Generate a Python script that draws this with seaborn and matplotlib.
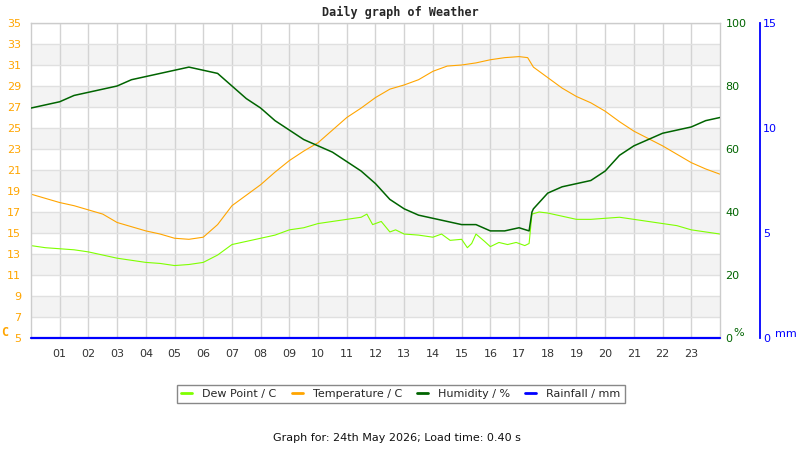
import matplotlib
matplotlib.use('Agg')
import matplotlib.pyplot as plt
from matplotlib.lines import Line2D
import seaborn as sns

# readings for the day (hours since midnight)
temp_hours = [0, 0.5, 1, 1.5, 2, 2.5, 3, 3.5, 4, 4.5, 5, 5.5, 6, 6.5, 7, 7.5, 8, 8.5,
              9, 9.5, 10, 10.5, 11, 11.5, 12, 12.5, 13, 13.5, 14, 14.5, 15, 15.5, 16,
              16.5, 17, 17.3, 17.5, 18, 18.5, 19, 19.5, 20, 20.5, 21, 21.5, 22, 22.5,
              23, 23.5, 24]
temperature = [18.7, 18.3, 17.9, 17.6, 17.2, 16.8, 16.0, 15.6, 15.2, 14.9, 14.5, 14.4,
               14.6, 15.8, 17.6, 18.6, 19.6, 20.8, 21.9, 22.8, 23.6, 24.8, 26.0, 26.9,
               27.9, 28.7, 29.1, 29.6, 30.4, 30.9, 31.0, 31.2, 31.5, 31.7, 31.8, 31.7,
               30.8, 29.8, 28.8, 28.0, 27.4, 26.6, 25.6, 24.7, 24.0, 23.3, 22.5, 21.7,
               21.1, 20.6]

dew_hours = [0, 0.5, 1, 1.5, 2, 2.5, 3, 3.5, 4, 4.5, 5, 5.5, 6, 6.5, 7, 7.5, 8, 8.5,
             9, 9.5, 10, 10.5, 11, 11.5, 11.7, 11.9, 12.2, 12.5, 12.7, 13, 13.5, 14,
             14.3, 14.6, 15, 15.2, 15.35, 15.5, 15.8, 16, 16.3, 16.6, 16.9, 17.2, 17.35,
             17.45, 17.7, 18, 18.5, 19, 19.5, 20, 20.5, 21, 21.5, 22, 22.5, 23, 23.5, 24]
dew_point = [13.8, 13.6, 13.5, 13.4, 13.2, 12.9, 12.6, 12.4, 12.2, 12.1, 11.9, 12.0,
             12.2, 12.9, 13.9, 14.2, 14.5, 14.8, 15.3, 15.5, 15.9, 16.1, 16.3, 16.5,
             16.8, 15.8, 16.1, 15.1, 15.3, 14.9, 14.8, 14.6, 14.9, 14.3, 14.4, 13.6,
             14.0, 14.9, 14.2, 13.7, 14.1, 13.9, 14.1, 13.8, 14.0, 16.8, 17.0, 16.9,
             16.6, 16.3, 16.3, 16.4, 16.5, 16.3, 16.1, 15.9, 15.7, 15.3, 15.1, 14.9]

hum_hours = [0, 0.5, 1, 1.5, 2, 2.5, 3, 3.5, 4, 4.5, 5, 5.5, 6, 6.5, 7, 7.5, 8, 8.5,
             9, 9.5, 10, 10.5, 11, 11.5, 12, 12.5, 13, 13.5, 14, 14.5, 15, 15.5, 16,
             16.5, 17, 17.35, 17.45, 17.5, 18, 18.5, 19, 19.5, 20, 20.5, 21, 21.5, 22,
             22.5, 23, 23.5, 24]
humidity = [73, 74, 75, 77, 78, 79, 80, 82, 83, 84, 85, 86, 85, 84, 80, 76, 73, 69,
            66, 63, 61, 59, 56, 53, 49, 44, 41, 39, 38, 37, 36, 36, 34, 34, 35, 34, 40,
            41, 46, 48, 49, 50, 53, 58, 61, 63, 65, 66, 67, 69, 70]

rain_hours = [0, 24]
rainfall = [0, 0]

hour_labels = ['%02d' % h for h in range(1, 24)]

ORANGE = '#FFA500'
LIME = '#7FFF00'
GREEN = '#006400'
BLUE = '#0000FF'

sns.set_theme(style='white')
plt.rcParams['font.family'] = ['DejaVu Sans']

fig = plt.figure(figsize=(8, 4.5), dpi=100)
ax = fig.add_axes([31 / 800, 112 / 450, 689 / 800, 315 / 450])
ax.set_xlim(0, 24)
ax.set_ylim(5, 35)

# alternating bands
for lo in range(7, 33, 4):
    ax.axhspan(lo, lo + 2, color='#f3f3f3', zorder=0, lw=0)

ax.set_yticks(range(5, 36, 2))
ax.set_xticks(range(1, 24))
ax.set_xticklabels(hour_labels)
ax.grid(True, axis='y', color='#e0e0e0', lw=1)
ax.grid(True, axis='x', color='#d3d3d3', lw=1)
ax.tick_params(axis='y', length=0, pad=7, labelsize=8, labelcolor=ORANGE)
ax.tick_params(axis='x', length=0, pad=8, labelsize=8, labelcolor='#333333')
for s in ['left', 'top', 'right']:
    ax.spines[s].set_color('#cccccc')
    ax.spines[s].set_linewidth(1)
ax.spines['bottom'].set_visible(False)

sns.lineplot(x=temp_hours, y=temperature, ax=ax, color=ORANGE, lw=0.8)
sns.lineplot(x=dew_hours, y=dew_point, ax=ax, color=LIME, lw=0.8)

# humidity axis
ax2 = ax.twinx()
ax2.set_ylim(0, 100)
ax2.set_yticks(range(0, 101, 20))
ax2.tick_params(axis='y', length=0, pad=4, labelsize=8, labelcolor=GREEN)
for s in ax2.spines.values():
    s.set_visible(False)
sns.lineplot(x=hum_hours, y=humidity, ax=ax2, color=GREEN, lw=1.1)

# rainfall axis
ax3 = ax.twinx()
ax3.set_ylim(0, 15)
ax3.set_yticks([0, 5, 10, 15])
ax3.spines['right'].set_position(('axes', (760 - 31) / 689))
for s in ['left', 'top', 'bottom']:
    ax3.spines[s].set_visible(False)
ax3.spines['right'].set_color(BLUE)
ax3.spines['right'].set_linewidth(1.3)
ax3.tick_params(axis='y', length=0, pad=2, labelsize=8, labelcolor=BLUE)
sns.lineplot(x=rain_hours, y=rainfall, ax=ax3, color=BLUE, lw=1.6)
for ln in ax3.lines:
    ln.set_clip_on(False)
ax.set_xlabel('')
ax.set_ylabel('')
ax2.set_ylabel('')
ax3.set_ylabel('')

fig.text(400 / 800, 1 - 12 / 450, 'Daily graph of Weather', ha='center', va='center',
         fontsize=8.5, fontweight='bold', family='DejaVu Sans Mono')
fig.text(5 / 800, 1 - 332 / 450, 'C', ha='center', va='center', fontsize=8.5,
         fontweight='bold', family='DejaVu Sans Mono', color=ORANGE)
fig.text(739 / 800, 1 - 333 / 450, '%', ha='center', va='center', fontsize=8, color=GREEN)
fig.text(786 / 800, 1 - 334 / 450, 'mm', ha='center', va='center', fontsize=8, color=BLUE)

handles = [Line2D([], [], color=LIME, lw=2), Line2D([], [], color=ORANGE, lw=2),
           Line2D([], [], color=GREEN, lw=2), Line2D([], [], color=BLUE, lw=2)]
labels = ['Dew Point / C', 'Temperature / C', 'Humidity / %', 'Rainfall / mm']
leg = fig.legend(handles, labels, loc='center', bbox_to_anchor=(401 / 800, 1 - 394 / 450),
                 ncol=4, fontsize=8, handlelength=1.0, handletextpad=0.9,
                 columnspacing=1.35, fancybox=False, edgecolor='#888888', borderpad=0.4,
                 framealpha=1)
leg.get_frame().set_linewidth(1)

fig.text(397 / 800, 1 - 438 / 450, 'Graph for: 24th May 2026; Load time: 0.40 s',
         ha='center', va='center', fontsize=8, color='#111111')

fig.savefig('out.png', dpi=100)
